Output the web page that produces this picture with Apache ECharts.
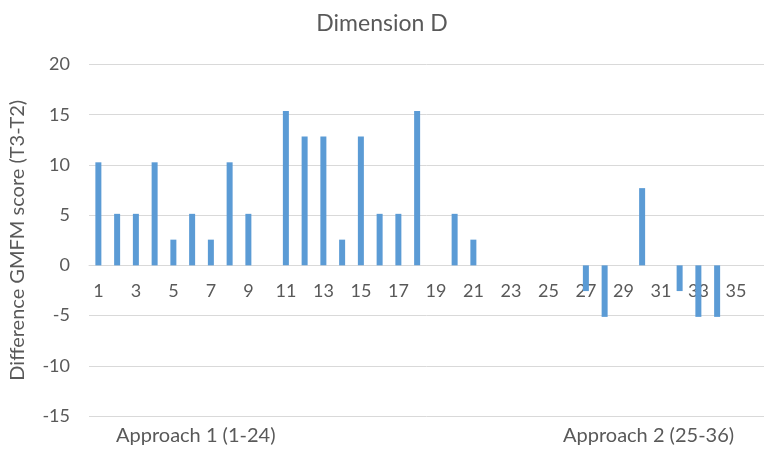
<!DOCTYPE html>
<html>
<head>
<meta charset="utf-8">
<script src="https://cdn.jsdelivr.net/npm/echarts@6/dist/echarts.min.js"></script>
<style>
html,body{margin:0;padding:0;background:#fff;}
#main{width:764px;height:449px;}
</style>
</head>
<body>
<div id="main"></div>
<script>
const categories = Array.from({length: 36}, (_, i) => String(i + 1));
const values = [10.26, 5.13, 5.13, 10.26, 2.56, 5.13, 2.56, 10.26, 5.13, 0,
  15.38, 12.82, 12.82, 2.56, 12.82, 5.13, 5.13, 15.38, 0, 5.13,
  2.56, 0, 0, 0, 0, 0, -2.56, -5.13, 0, 7.69,
  0, -2.56, -5.13, -5.13, 0, 0];
const yTicks = {min: -15, max: 20, interval: 5};
const titleText = 'Dimension D';
const yName = 'Difference GMFM score (T3-T2)';
const groupLabels = ['Approach 1 (1-24)', 'Approach 2 (25-36)'];

const FONT = 'Lato, "Open Sans", sans-serif';
const TXT = '#595959';
const GRID_TOP = 64.5, GRID_BOTTOM = 33;
const chart = echarts.init(document.getElementById('main'));
// distance from bottom of plot to the zero line, via the y scale
const plotH = 449 - GRID_TOP - GRID_BOTTOM;
const zeroOffset = plotH * (0 - yTicks.min) / (yTicks.max - yTicks.min);
chart.setOption({
  backgroundColor: '#fff',
  animation: false,
  title: {
    text: titleText, left: 'center', top: 7,
    textStyle: {fontFamily: FONT, fontSize: 23, fontWeight: 'normal', color: TXT}
  },
  grid: {left: 87, right: -5, top: GRID_TOP, bottom: GRID_BOTTOM, containLabel: false},
  xAxis: {
    type: 'category', data: categories, position: 'bottom', offset: -zeroOffset,
    axisLine: {show: true, onZero: false, lineStyle: {color: '#d9d9d9', width: 1}},
    axisTick: {show: false},
    axisLabel: {interval: 1, color: TXT, fontFamily: FONT, fontSize: 18, margin: 17}
  },
  yAxis: {
    type: 'value', min: yTicks.min, max: yTicks.max, interval: yTicks.interval,
    name: yName, nameLocation: 'middle', nameGap: 61,
    nameTextStyle: {fontFamily: FONT, fontSize: 20, color: TXT},
    axisLine: {show: false}, axisTick: {show: false},
    axisLabel: {color: TXT, fontFamily: FONT, fontSize: 18, margin: 19},
    splitLine: {lineStyle: {color: '#d9d9d9', width: 1}}
  },
  series: [{
    type: 'bar', data: values, barWidth: 6,
    itemStyle: {color: '#5b9bd5'}
  }],
  graphic: [
    {type: 'text', x: 116, y: 436, style: {text: groupLabels[0], font: '20px ' + FONT, fill: TXT, textVerticalAlign: 'middle'}},
    {type: 'text', x: 563, y: 436, style: {text: groupLabels[1], font: '20px ' + FONT, fill: TXT, textVerticalAlign: 'middle'}}
  ]
});
</script>
</body>
</html>
